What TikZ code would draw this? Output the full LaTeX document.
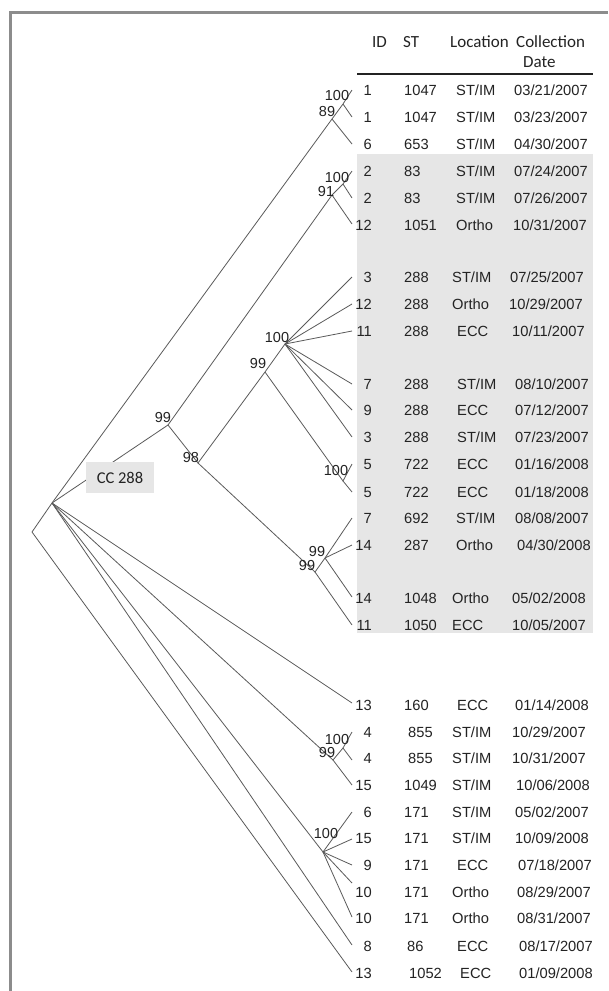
\documentclass[tikz,border=0pt]{standalone}
\usepackage{fontspec}
\setmainfont{Liberation Sans}
\newfontfamily\hdrfont{Carlito}
\definecolor{framegray}{RGB}{140,140,140}
\definecolor{boxgray}{RGB}{230,230,230}
\definecolor{branch}{RGB}{90,90,90}
\definecolor{ink}{RGB}{35,35,35}
\tikzset{
  cell/.style={inner sep=0pt, text=ink, font=\fontsize{14.7}{16}\selectfont},
  boot/.style={inner sep=0pt, text=ink, font=\fontsize{14.5}{15}\selectfont},
  hdr/.style={inner sep=0pt, text=ink, font=\hdrfont\fontsize{17}{18}\selectfont, anchor=base west},
  br/.style={draw=branch, line width=0.8pt},
}
\newcommand\trow[9]{%
  \node[cell,anchor=base east] (id#1) at (372,#2+5.3) {#3};
  \node[cell,anchor=base west] (st#1) at (#4,#2+5.3) {#5};
  \node[cell,anchor=base west] (loc#1) at (#6,#2+5.3) {#7};
  \node[cell,anchor=base west] (date#1) at (#8,#2+5.3) {#9};}
\begin{document}
\begin{tikzpicture}[x=1pt,y=-1pt]
\useasboundingbox (0,0) rectangle (608,991);
\fill[white] (0,0) rectangle (608,991);
% frame
\draw[framegray, line width=2.5pt] (10.5,991) -- (10.5,12.3) -- (608,12.3);
% shaded block
\fill[boxgray] (357,154) rectangle (593,633);
% header
\node[hdr] (hID) at (372,47.5) {ID};
\node[hdr] (hST) at (403,47.5) {ST};
\node[hdr] (hLoc) at (450,47.5) {Location};
\node[hdr] (hCol) at (516,47.5) {Collection};
\node[hdr] (hDate) at (523,67.5) {Date};
\draw[ink, line width=1.6pt] (357,74) -- (593,74);
% tree coordinates
\coordinate (root) at (52,503);
\coordinate (og) at (32,532);
\coordinate (n89) at (332,119);
\coordinate (n100a) at (343,104);
\coordinate (n99a) at (168,425);
\coordinate (n91) at (332,195);
\coordinate (n100b) at (343,184);
\coordinate (n98) at (198,463);
\coordinate (n99b) at (265,372);
\coordinate (n100c) at (285,344);
\coordinate (n100d) at (343,481);
\coordinate (n99d) at (315,572);
\coordinate (n99e) at (325,558);
\coordinate (n99c) at (333,760);
\coordinate (n100f) at (343,748);
\coordinate (n100e) at (323,852);
\coordinate (L1) at (352,90);
\coordinate (L2) at (352,117);
\coordinate (L3) at (352,144);
\coordinate (L4) at (352,171);
\coordinate (L5) at (352,198);
\coordinate (L6) at (352,224);
\coordinate (L7) at (352,277);
\coordinate (L8) at (352,304);
\coordinate (L9) at (352,331);
\coordinate (L10) at (352,384);
\coordinate (L11) at (352,410);
\coordinate (L12) at (352,437);
\coordinate (L13) at (352,464);
\coordinate (L14) at (352,492);
\coordinate (L15) at (352,518);
\coordinate (L16) at (352,545);
\coordinate (L17) at (352,597);
\coordinate (L18) at (352,625);
\coordinate (L19) at (352,703);
\coordinate (L20) at (352,732);
\coordinate (L21) at (352,760);
\coordinate (L22) at (352,785);
\coordinate (L23) at (352,812);
\coordinate (L24) at (352,839);
\coordinate (L25) at (352,865);
\coordinate (L26) at (352,883);
\coordinate (L27) at (352,917);
\coordinate (L28) at (352,945);
\coordinate (L29) at (352,972);
% branches
\draw[br] (root) -- (n89);
\draw[br] (n89) -- (n100a) -- (L1);
\draw[br] (n100a) -- (L2);
\draw[br] (n89) -- (L3);
\draw[br] (root) -- (n99a);
\draw[br] (n99a) -- (n91) -- (n100b) -- (L4);
\draw[br] (n100b) -- (L5);
\draw[br] (n91) -- (L6);
\draw[br] (n99a) -- (n98) -- (n99b) -- (n100c);
\foreach \i in {7,...,12} \draw[br] (n100c) -- (L\i);
\draw[br] (n99b) -- (n100d) -- (L13);
\draw[br] (n100d) -- (L14);
\draw[br] (n98) -- (n99d) -- (n99e) -- (L15);
\draw[br] (n99e) -- (L16);
\draw[br] (n99e) -- (L17);
\draw[br] (n99d) -- (L18);
\draw[br] (root) -- (L19);
\draw[br] (root) -- (n99c) -- (n100f) -- (L20);
\draw[br] (n100f) -- (L21);
\draw[br] (n99c) -- (L22);
\draw[br] (root) -- (n100e);
\foreach \i in {23,...,27} \draw[br] (n100e) -- (L\i);
\draw[br] (root) -- (L28);
\draw[br] (root) -- (og) -- (L29);
% CC 288 label box
\node[fill=boxgray, minimum width=68pt, minimum height=31pt, inner sep=0pt,
      text=ink, font=\hdrfont\fontsize{16.5}{18}\selectfont] (cc) at (120,477.5) {CC 288};
% bootstrap values
\node[boot] (b1) at (337,96) {100};
\node[boot] (b2) at (327,112) {89};
\node[boot] (b3) at (337,178) {100};
\node[boot] (b4) at (326,192) {91};
\node[boot] (b5) at (163,418) {99};
\node[boot] (b6) at (191,458) {98};
\node[boot] (b7) at (258,364) {99};
\node[boot] (b8) at (277,338) {100};
\node[boot] (b9) at (336,471) {100};
\node[boot] (b10) at (317,552) {99};
\node[boot] (b11) at (307,566) {99};
\node[boot] (b12) at (337,739) {100};
\node[boot] (b13) at (327,752) {99};
\node[boot] (b14) at (326,833) {100};
% table rows
\trow{1}{90}{1}{404}{1047}{456}{ST/IM}{514}{03/21/2007}
\trow{2}{117}{1}{404}{1047}{456}{ST/IM}{514}{03/23/2007}
\trow{3}{144}{6}{404}{653}{456}{ST/IM}{514}{04/30/2007}
\trow{4}{171}{2}{404}{83}{456}{ST/IM}{514}{07/24/2007}
\trow{5}{198}{2}{404}{83}{456}{ST/IM}{514}{07/26/2007}
\trow{6}{225}{12}{404}{1051}{456}{Ortho}{513}{10/31/2007}
\trow{7}{277}{3}{404}{288}{452}{ST/IM}{510}{07/25/2007}
\trow{8}{304}{12}{404}{288}{452}{Ortho}{509}{10/29/2007}
\trow{9}{331}{11}{404}{288}{457}{ECC}{512}{10/11/2007}
\trow{10}{384}{7}{404}{288}{457}{ST/IM}{515}{08/10/2007}
\trow{11}{410}{9}{404}{288}{457}{ECC}{515}{07/12/2007}
\trow{12}{437}{3}{404}{288}{457}{ST/IM}{515}{07/23/2007}
\trow{13}{464}{5}{404}{722}{457}{ECC}{515}{01/16/2008}
\trow{14}{492}{5}{404}{722}{457}{ECC}{515}{01/18/2008}
\trow{15}{518}{7}{404}{692}{456}{ST/IM}{515}{08/08/2007}
\trow{16}{545}{14}{404}{287}{456}{Ortho}{517}{04/30/2008}
\trow{17}{598}{14}{404}{1048}{452}{Ortho}{512}{05/02/2008}
\trow{18}{625}{11}{404}{1050}{452}{ECC}{512}{10/05/2007}
\trow{19}{705}{13}{404}{160}{457}{ECC}{515}{01/14/2008}
\trow{20}{732}{4}{408}{855}{452}{ST/IM}{512}{10/29/2007}
\trow{21}{758}{4}{408}{855}{452}{ST/IM}{512}{10/31/2007}
\trow{22}{785}{15}{404}{1049}{452}{ST/IM}{516}{10/06/2008}
\trow{23}{812}{6}{404}{171}{452}{ST/IM}{515}{05/02/2007}
\trow{24}{838}{15}{404}{171}{452}{ST/IM}{515}{10/09/2008}
\trow{25}{865}{9}{404}{171}{457}{ECC}{518}{07/18/2007}
\trow{26}{892}{10}{404}{171}{452}{Ortho}{517}{08/29/2007}
\trow{27}{918}{10}{404}{171}{452}{Ortho}{517}{08/31/2007}
\trow{28}{946}{8}{407}{86}{457}{ECC}{519}{08/17/2007}
\trow{29}{973}{13}{409}{1052}{460}{ECC}{519}{01/09/2008}
\end{tikzpicture}
\end{document}
